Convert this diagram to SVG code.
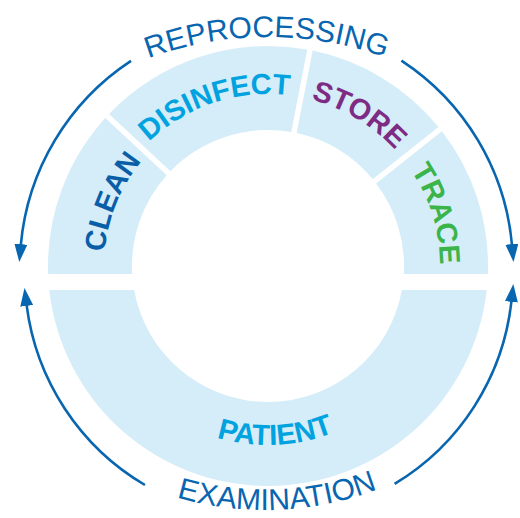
<svg xmlns="http://www.w3.org/2000/svg" width="520" height="518" viewBox="0 0 520 518">
<style>
.seg{fill:#d5edf9;stroke:none}
.lbl{font-family:"Liberation Sans",Arial,sans-serif;font-weight:bold;font-size:29px}
.cyc{font-family:"Liberation Sans",Arial,sans-serif;font-size:30px;fill:#0866b0}
.arr{fill:none;stroke:#0866b0;stroke-width:2.6}
</style>
<defs>
<path id="pClean" d="M 104 266 A 164 164 0 0 1 432 266"/>
<path id="pUpper" d="M 96 266 A 172 172 0 1 1 437.39 295.87"/>
<path id="pPatient" d="M 89 266 A 179 179 0 0 0 447 266"/>
<path id="pRepro" d="M -77 382 A 345 345 0 0 1 613 382"/>
<path id="pExam" d="M -50 195 A 315 315 0 0 0 580 195"/>
<marker id="ah" markerUnits="userSpaceOnUse" viewBox="0 0 18 13" markerWidth="18" markerHeight="13" refX="1" refY="6.5" orient="auto">
<path d="M0,0 L18,6.5 L0,13 Z" fill="#0866b0"/>
</marker>
</defs>
<rect width="520" height="518" fill="#ffffff"/>
<g id="clean">
<path class="seg" d="M 48.14 274 A 220 220 0 0 1 105.3 118 L 166.68 175.29 A 136 136 0 0 0 132.24 274 Z"/>
<text class="lbl" fill="#0a5ea8"><textPath href="#pClean" startOffset="63.8" text-anchor="middle">CLEAN</textPath></text>
</g>
<g id="disinfect">
<path class="seg" d="M 109 114 A 220 220 0 0 1 307.27 49.54 L 291.24 132 A 136 136 0 0 0 170.46 171.23 Z"/>
<text class="lbl" fill="#00a3e0"><textPath href="#pUpper" startOffset="215.2" text-anchor="middle">DISINFECT</textPath></text>
</g>
<g id="store">
<path class="seg" d="M 312.69 50.6 A 220 220 0 0 1 438.43 126.89 L 372.71 179.2 A 136 136 0 0 0 296.64 133.05 Z"/>
<text class="lbl" fill="#7e2b83"><textPath href="#pUpper" startOffset="363.2" text-anchor="middle">STORE</textPath></text>
</g>
<g id="trace">
<path class="seg" d="M 441.93 131.23 A 220 220 0 0 1 487.86 274 L 403.76 274 A 136 136 0 0 0 376.11 183.48 Z"/>
<text class="lbl" fill="#3bb44a"><textPath href="#pUpper" startOffset="488.6" text-anchor="middle">TRACE</textPath></text>
</g>
<g id="patient">
<path class="seg" d="M 486.69 290 A 220 220 0 0 1 49.31 290 L 134.13 290 A 136 136 0 0 0 401.87 290 Z"/>
<text class="lbl" fill="#00a3e0"><textPath href="#pPatient" startOffset="288.7" text-anchor="middle">PATIENT</textPath></text>
</g>
<g id="connectors">
<path class="arr" d="M 131.0 60.9 A 246.6 246.6 0 0 0 20.8 245.1" marker-end="url(#ah)"/>
<path class="arr" d="M 401.4 60.6 A 246.6 246.6 0 0 1 512.0 245.1" marker-end="url(#ah)"/>
<path class="arr" d="M 144.95 485.0 A 244.1 244.1 0 0 1 26.6 304.9" marker-end="url(#ah)"/>
<path class="arr" d="M 394.6 483.9 A 244.1 244.1 0 0 0 511.5 300.9" marker-end="url(#ah)"/>
<text id="reprocessing" class="cyc"><textPath href="#pRepro" startOffset="540.4" text-anchor="middle">REPROCESSING</textPath></text>
<text id="examination" class="cyc"><textPath href="#pExam" startOffset="507.3" text-anchor="middle">EXAMINATION</textPath></text>
</g>
</svg>
